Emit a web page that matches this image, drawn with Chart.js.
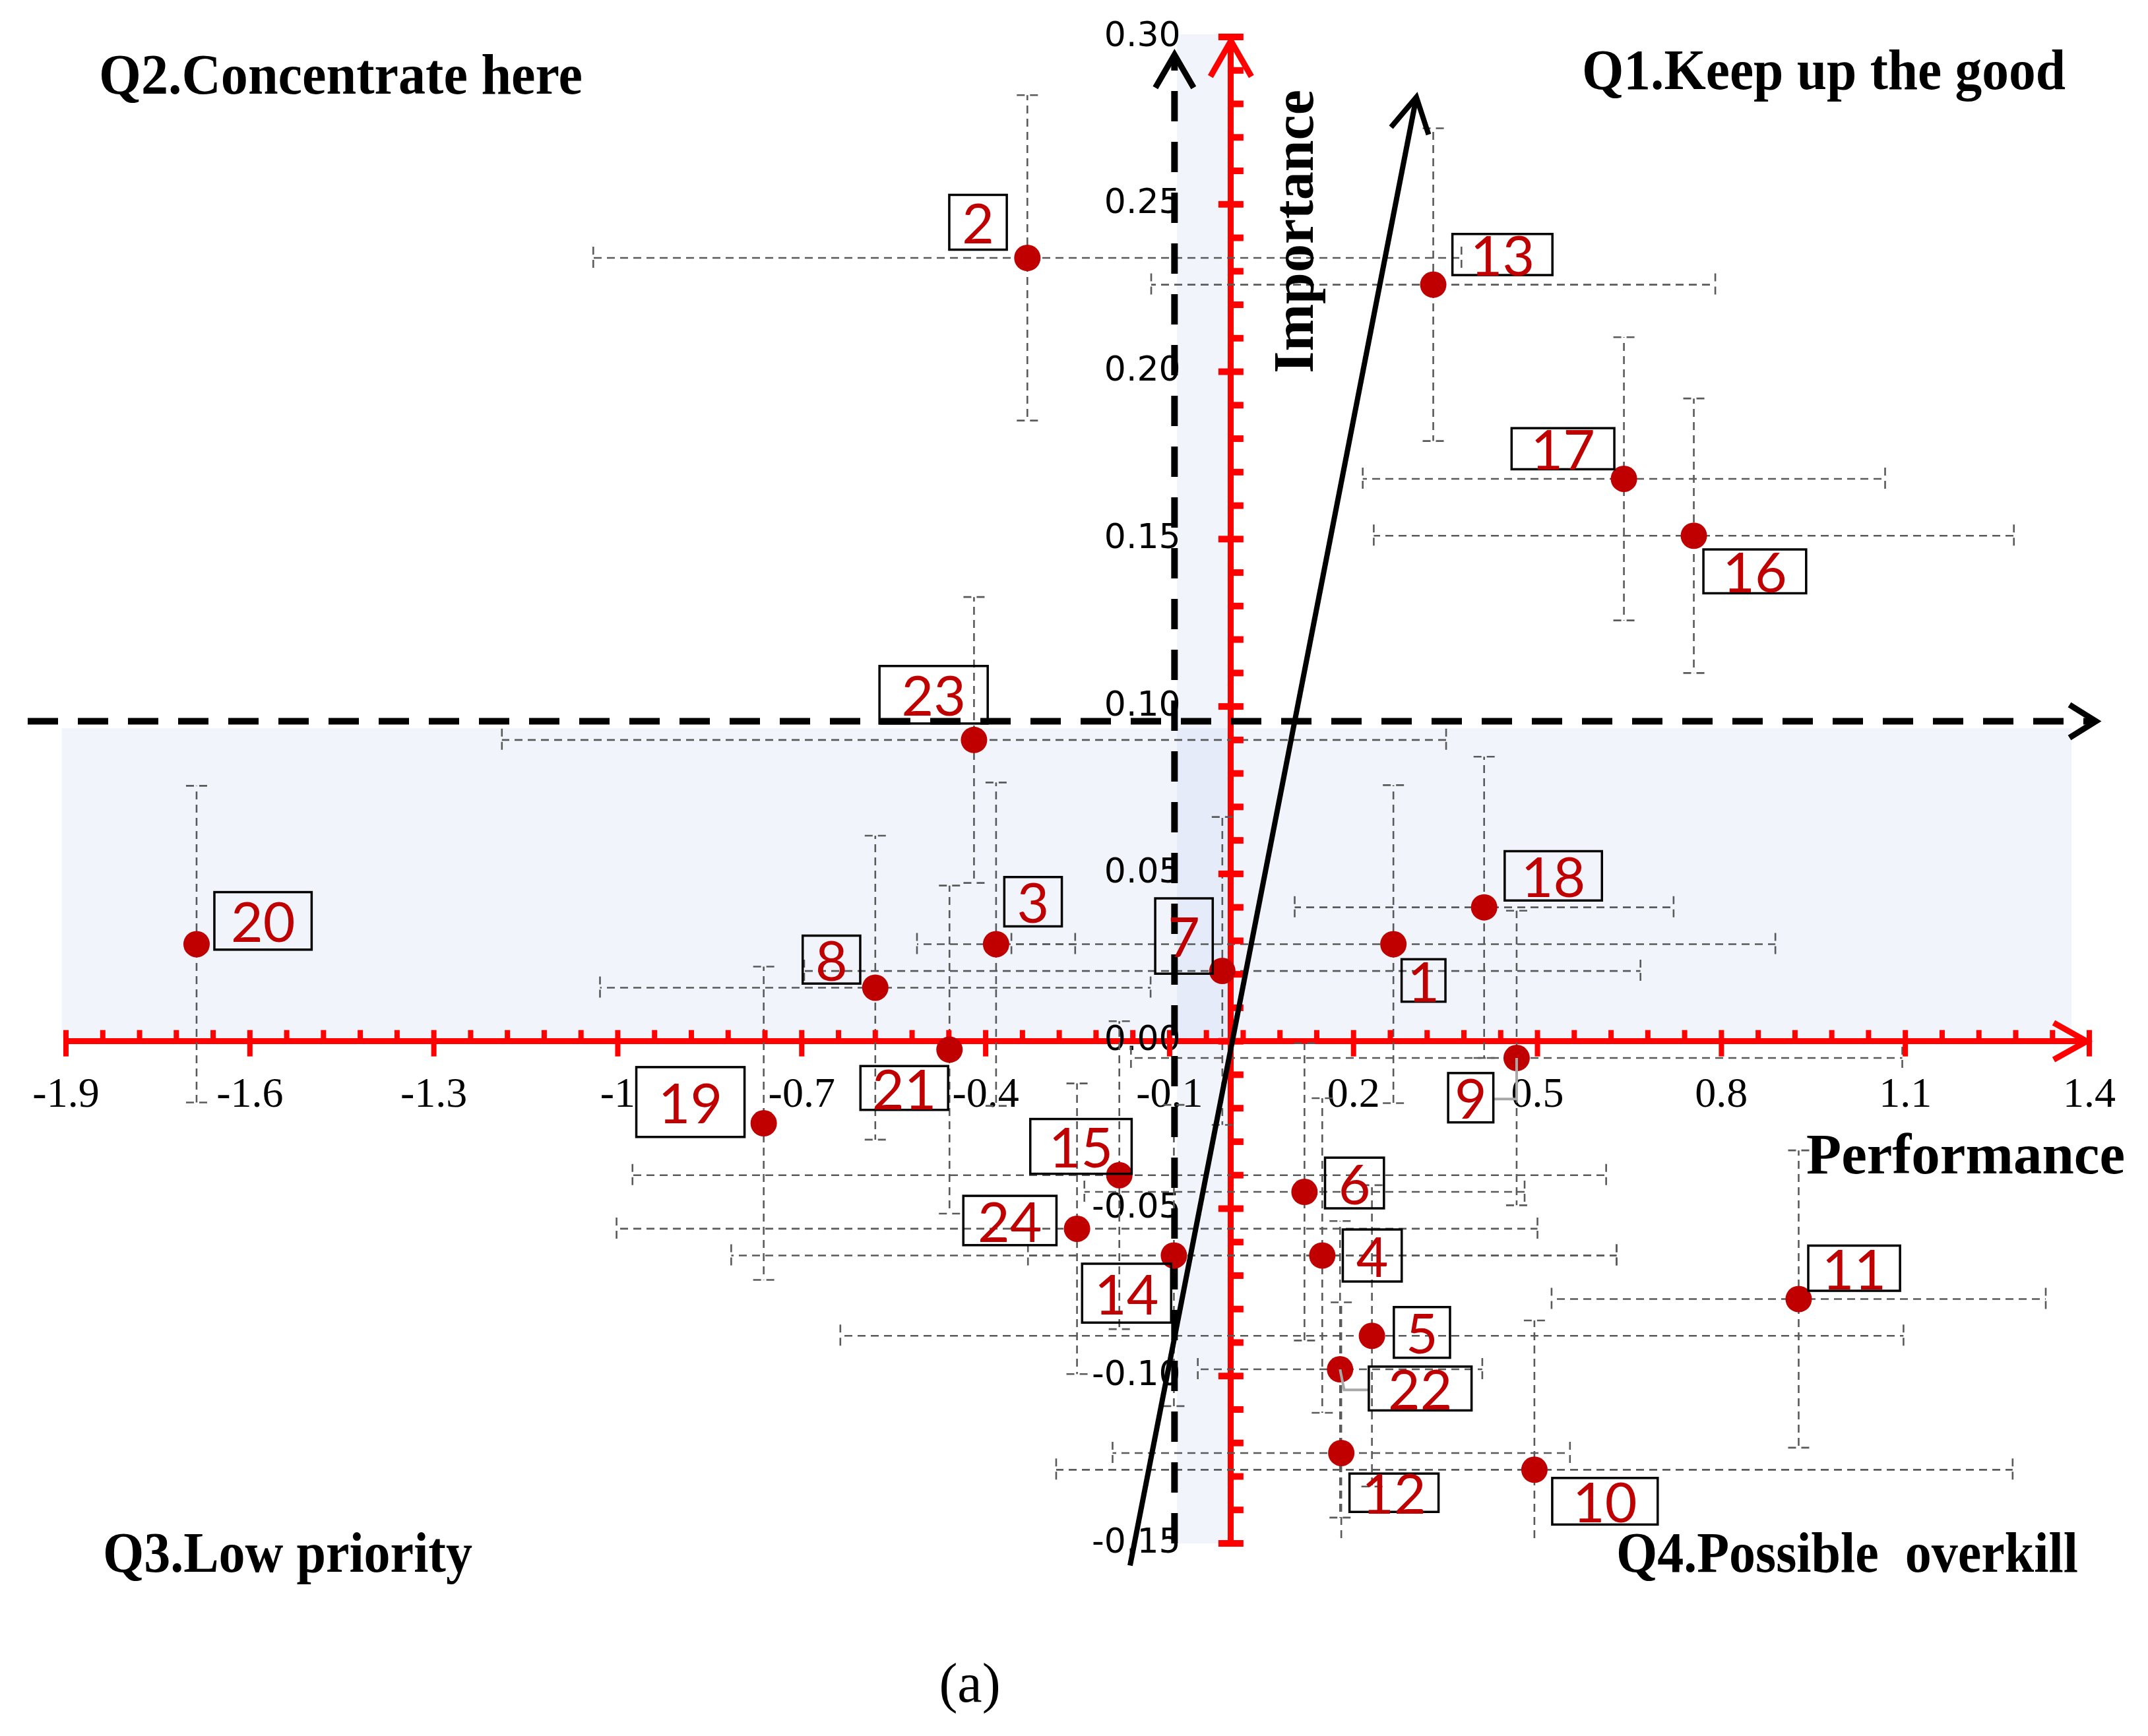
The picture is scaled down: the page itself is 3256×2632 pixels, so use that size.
<!DOCTYPE html>
<html><head><meta charset="utf-8">
<script src="https://cdn.jsdelivr.net/npm/chart.js@4.4.1/dist/chart.umd.min.js"></script>
<style>html,body{margin:0;padding:0;background:#fff;}canvas{display:block;}</style>
</head><body>
<canvas id="c" width="3256" height="2632" style="width:3256px;height:2632px"></canvas>
<script>
// ---------------- data ----------------
const items = ['1','2','3','4','5','6','7','8','9','10','11','12','13','14','15','16','17','18','19','20','21','22','23','24'];
const performance    = [0.265,-0.332,-0.383,0.149,0.230,0.120,-0.014,-0.580,0.466,0.495,0.926,0.180,0.330,-0.093,-0.182,0.755,0.641,0.413,-0.762,-1.687,-0.459,0.178,-0.419,-0.251];
const importance     = [0.029,0.234,0.029,-0.064,-0.088,-0.045,0.021,0.016,-0.005,-0.128,-0.077,-0.123,0.226,-0.064,-0.040,0.151,0.168,0.040,-0.0245,0.029,-0.0025,-0.098,0.090,-0.056];
const performanceErr = [0.623,0.708,0.129,0.480,0.867,0.359,0.682,0.449,0.629,0.780,0.403,0.373,0.460,0.722,0.794,0.522,0.426,0.309,0.000,0.000,0.000,0.232,0.770,0.751];
const importanceErr  = [0.0475,0.0486,0.0483,0.047,0.045,0.0444,0.046,0.0454,0.044,0.0446,0.0444,0.045,0.0467,0.045,0.046,0.041,0.0423,0.045,0.0468,0.0473,0.049,0.0443,0.0427,0.0434];
const xTicks = [-1.9,-1.6,-1.3,-1,-0.7,-0.4,-0.1,0.2,0.5,0.8,1.1,1.4];
const yTicks = [-0.15,-0.10,-0.05,0.00,0.05,0.10,0.15,0.20,0.25,0.30];
const meanPerformance = -0.092;
const meanImportance = 0.0956;
const perfBand = [-0.088, 0.0];
const impBand = [0.001, 0.0935];
const trendLine = [[-0.1645,-0.1566],[0.3025,0.282]];
const quadrantTitles = ['Q1.Keep up the good','Q2.Concentrate here','Q3.Low priority','Q4.Possible  overkill'];
const axisTitles = ['Performance','Importance'];
const panelTag = '(a)';

// ---------------- layout (not data) ----------------
const S = 2.0765;
// label box [dx, dy, w, h] relative to the point, in reference units
const labelLayout = [
 [6,11,32,31],[-57,-46,42,40],[6,-49,42,36],[15,-19,43,38],[16,-21,41,37],[15,-25,43,37],
 [-49,-53,42,55],[-53,-38,42,35],[-50,11,33,36],[13,6,77,34],[7,-39,67,33],[6,15,65,28],
 [14,-37,73,30],[-67,6,65,43],[-65,-41,74,40],[7,10,75,32],[-82,-37,75,30],[15,-41,71,36],
 [-93,-41,79,51],[13,-38,71,42],[-65,12,64,32],[21,-2,75,32],[-69,-54,79,42],[-83,-24,68,36]
];
const leaders = {8: [[0,0],[0,30],[-17,30]], 21: [[0,0],[3,15],[21,15]]};

function seg(ctx,x1,y1,x2,y2){ctx.beginPath();ctx.moveTo(x1,y1);ctx.lineTo(x2,y2);ctx.stroke();}
// dashed segment whose dash phase is tied to absolute position (overlaps stay dashed)
function dseg(ctx,x1,y1,x2,y2,period){
  const start = Math.abs(x2-x1) > Math.abs(y2-y1) ? x1 : y1;
  ctx.lineDashOffset = ((start % period) + period) % period;
  seg(ctx,x1,y1,x2,y2);
}
function chevron(ctx,ax,ay,ux,uy,back,half){
  const nx=-uy, ny=ux;
  ctx.beginPath();
  ctx.moveTo(ax-ux*back+nx*half, ay-uy*back+ny*half);
  ctx.lineTo(ax,ay);
  ctx.lineTo(ax-ux*back-nx*half, ay-uy*back-ny*half);
  ctx.stroke();
}

const decor = {
  id:'decor',
  beforeDraw(chart){
    const {ctx, chartArea:ca} = chart; const xs=chart.scales.x, ys=chart.scales.y;
    ctx.save();
    ctx.fillStyle='rgba(170,188,228,0.16)';
    const bx1=xs.getPixelForValue(perfBand[0]), bx2=xs.getPixelForValue(perfBand[1]);
    ctx.fillRect(bx1, ca.top-4, bx2-bx1, ca.bottom-ca.top+4);
    const hx1=xs.getPixelForValue(-1.907), hx2=xs.getPixelForValue(1.371);
    const hy1=ys.getPixelForValue(impBand[1]), hy2=ys.getPixelForValue(impBand[0]);
    ctx.fillRect(hx1, hy1, hx2-hx1, hy2-hy1);
    ctx.restore();
  },
  beforeDatasetsDraw(chart){
    const {ctx, chartArea:ca} = chart; const xs=chart.scales.x, ys=chart.scales.y;
    // error bars
    ctx.save();
    ctx.beginPath(); ctx.rect(0, ca.top-10, chart.width, ca.bottom-ca.top+10); ctx.clip();
    ctx.strokeStyle='#5a5a5a'; ctx.lineWidth=2.6; ctx.setLineDash([12,8]);
    for(let i=0;i<items.length;i++){
      const cx=xs.getPixelForValue(performance[i]), cy=ys.getPixelForValue(importance[i]);
      const ex=performanceErr[i], ey=importanceErr[i];
      if(ex>0){
        const l=xs.getPixelForValue(performance[i]-ex), r=xs.getPixelForValue(performance[i]+ex);
        dseg(ctx,l,cy,r,cy,20); ctx.lineDashOffset=0;
        seg(ctx,l,cy-17,l,cy+17); seg(ctx,r,cy-17,r,cy+17);
      }
      if(ey>0){
        const t=ys.getPixelForValue(importance[i]+ey), b=ys.getPixelForValue(importance[i]-ey);
        dseg(ctx,cx,t,cx,b,20); ctx.lineDashOffset=0;
        seg(ctx,cx-16,t,cx+16,t); seg(ctx,cx-16,b,cx+16,b);
      }
    }
    ctx.restore();
    // red tick marks
    ctx.save();
    ctx.fillStyle='#ff0000';
    const y0=ys.getPixelForValue(0), x0=xs.getPixelForValue(0);
    for(let k=0;k<=55;k++){
      const x=xs.getPixelForValue(-1.9+k*0.06); const major=k%5===0;
      ctx.fillRect(x-4, y0-17, 8, major?40:17);
    }
    for(let k=0;k<=45;k++){
      const y=ys.getPixelForValue(-0.15+k*0.01); const major=k%5===0;
      if(major) ctx.fillRect(x0-19, y-5, 38, 10); else ctx.fillRect(x0, y-5, 19, 10);
    }
    // red arrowheads
    ctx.strokeStyle='#ff0000'; ctx.lineWidth=9; ctx.lineCap='butt'; ctx.lineJoin='miter';
    chevron(ctx, x0, ca.top+6, 0,-1, 54, 31);
    chevron(ctx, xs.getPixelForValue(1.4)-4, y0, 1,0, 50, 28);
    ctx.restore();
    // black dashed arrows
    ctx.save();
    ctx.strokeStyle='#000'; ctx.lineWidth=10;
    const mx=xs.getPixelForValue(meanPerformance), my=ys.getPixelForValue(meanImportance);
    ctx.setLineDash([46,31]);
    seg(ctx, mx, ca.bottom, mx, ca.top+30);
    ctx.setLineDash([46,30]);
    seg(ctx, 42, my, 3174, my);
    ctx.setLineDash([]); ctx.lineWidth=9;
    chevron(ctx, mx, ca.top+27, 0,-1, 50, 29);
    chevron(ctx, 3177, my, 1,0, 40, 25);
    // trend line
    const p1x=xs.getPixelForValue(trendLine[0][0]), p1y=ys.getPixelForValue(trendLine[0][1]);
    const p2x=xs.getPixelForValue(trendLine[1][0]), p2y=ys.getPixelForValue(trendLine[1][1]);
    ctx.lineWidth=8; seg(ctx,p1x,p1y,p2x,p2y);
    const L=Math.hypot(p2x-p1x,p2y-p1y);
    chevron(ctx, p2x, p2y, (p2x-p1x)/L, (p2y-p1y)/L, 52, 29);
    ctx.restore();
  },
  afterDatasetsDraw(chart){
    const {ctx} = chart; const xs=chart.scales.x, ys=chart.scales.y;
    ctx.save();
    // leaders
    ctx.strokeStyle='#a8a8a8'; ctx.lineWidth=4;
    Object.keys(leaders).forEach(k=>{
      const i=+k; const cx=xs.getPixelForValue(performance[i]), cy=ys.getPixelForValue(importance[i]);
      const pts=leaders[k]; ctx.beginPath();
      pts.forEach((p,j)=>{ const X=cx+p[0]*S, Y=cy+p[1]*S; if(j===0) ctx.moveTo(X,Y); else ctx.lineTo(X,Y); });
      ctx.stroke();
    });
    // label boxes
    ctx.lineWidth=3.5; ctx.strokeStyle='#000';
    ctx.font='84px Lato'; ctx.textAlign='center'; ctx.textBaseline='middle';
    for(let i=0;i<items.length;i++){
      const cx=xs.getPixelForValue(performance[i]), cy=ys.getPixelForValue(importance[i]);
      const [dx,dy,w,h]=labelLayout[i];
      const bx=cx+dx*S, by=cy+dy*S, bw=w*S, bh=h*S;
      ctx.strokeRect(bx,by,bw,bh);
      ctx.fillStyle='#c00000';
      ctx.fillText(items[i], bx+bw/2, by+bh/2+5, bw-16);
    }
    // quadrant titles
    ctx.fillStyle='#000'; ctx.textAlign='left'; ctx.textBaseline='alphabetic';
    ctx.font='bold 86px "Liberation Serif"';
    ctx.fillText(quadrantTitles[1], 150, 142, 733);
    ctx.fillText(quadrantTitles[0], 2398, 135, 733);
    ctx.fillText(quadrantTitles[2], 156, 2383, 560);
    ctx.fillText(quadrantTitles[3], 2450, 2383, 700);
    ctx.font='bold 87px "Liberation Serif"';
    ctx.fillText(axisTitles[0], 2738, 1779, 489);
    ctx.save();
    ctx.translate(1990, 566); ctx.rotate(-Math.PI/2);
    ctx.font='bold 86px "Liberation Serif"';
    ctx.fillText(axisTitles[1], 0, 0, 437);
    ctx.restore();
    ctx.font='84px "Liberation Serif"'; ctx.textAlign='center';
    ctx.fillText(panelTag, 1470, 2580);
    ctx.restore();
  }
};

new Chart(document.getElementById('c'), {
  type:'scatter',
  data:{ datasets:[{
    label:'Items',
    data: performance.map((x,i)=>({x, y:importance[i]})),
    pointRadius:20, pointHoverRadius:20,
    backgroundColor:'#c00000', borderWidth:0
  }]},
  options:{
    responsive:false, animation:false, devicePixelRatio:1, events:[],
    layout:{padding:{left:100, right:89, top:56, bottom:292}},
    plugins:{legend:{display:false}, tooltip:{enabled:false}},
    scales:{
      x:{type:'linear', position:{y:0}, min:-1.9, max:1.4,
        afterBuildTicks:s=>{s.ticks=xTicks.map(v=>({value:v}));},
        grid:{display:false, drawTicks:false},
        border:{display:true, color:'#ff0000', width:9},
        ticks:{autoSkip:false, maxRotation:0, padding:44, color:'#000',
          font:{family:'"Liberation Serif"', size:64},
          callback:v=>String(Math.round(v*10)/10)}
      },
      y:{type:'linear', position:{x:0}, min:-0.15, max:0.30,
        afterBuildTicks:s=>{s.ticks=yTicks.map(v=>({value:v}));},
        grid:{display:false, drawTicks:false},
        border:{display:true, color:'#ff0000', width:9},
        ticks:{display:false}
      },
      yLab:{type:'linear', axis:'y', position:{x:-0.082}, min:-0.15, max:0.30,
        afterBuildTicks:s=>{s.ticks=yTicks.map(v=>({value:v}));},
        grid:{display:false, drawTicks:false},
        border:{display:false},
        ticks:{autoSkip:false, padding:0, color:'#000',
          font:{family:'"DejaVu Sans"', size:52},
          callback:v=>v.toFixed(2)}
      }
    }
  },
  plugins:[decor]
});
</script>
</body></html>
